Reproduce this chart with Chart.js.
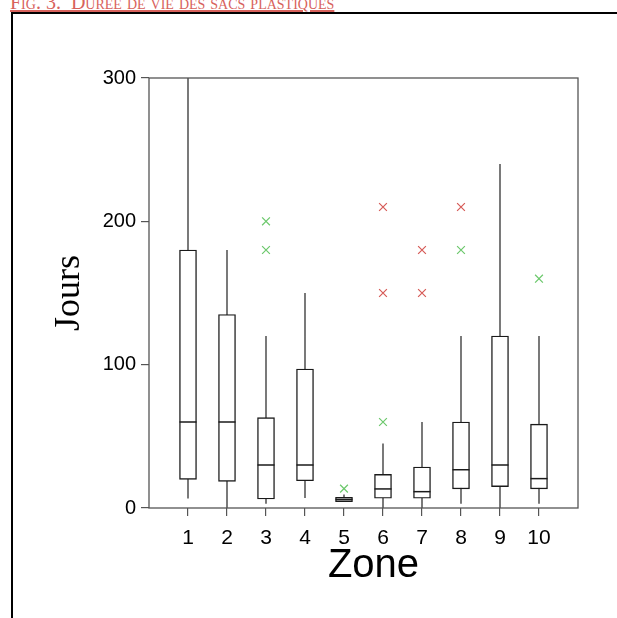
<!DOCTYPE html>
<html>
<head>
<meta charset="utf-8">
<script src="https://cdn.jsdelivr.net/npm/chart.js@4.4.1/dist/chart.umd.min.js"></script>
<style>
  body { margin: 0; background: #fff; overflow: hidden; }
  #fig {
    position: absolute; left: 10px; top: -8px;
    font-family: 'Liberation Serif', 'Times New Roman', serif;
    font-size: 20px; line-height: 20px; font-variant: small-caps;
    color: #d8625c; text-decoration: underline; white-space: pre;
  }
  #frame {
    position: absolute; left: 11px; top: 12px; width: 700px; height: 700px;
    border-left: 2px solid #000; border-top: 2px solid #000;
  }
  #myChart { position: absolute; left: 0; top: 0; }
</style>
</head>
<body>
<div id="fig">Fig. 3.  Durée de vie des sacs plastiques</div>
<div id="frame"></div>
<canvas id="myChart" width="617" height="618"></canvas>
<script>
// box plot values per zone (jours)
const zones = [1, 2, 3, 4, 5, 6, 7, 8, 9, 10];
const whiskerLow = [6.7, 0, 3, 7, 4.2, 0, 0, 3, 0, 3];
const q1 = [20, 18.6, 6.3, 19, 4.4, 6.8, 6.8, 13.3, 14.9, 13.3];
const median = [60, 60, 30, 30, 6, 13.3, 11.4, 26.7, 30, 20.5];
const q3 = [180, 135, 63, 97, 7.5, 23.5, 28.6, 60, 120, 58.5];
const whiskerHigh = [300, 180, 120, 150, 9.5, 45, 60, 120, 240, 120];

// outside values (green) and far outside values (red)
const outsideZone = [3, 3, 5, 6, 8, 10];
const outsideValue = [200, 180, 13.5, 60, 180, 160];
const farOutZone = [6, 6, 7, 7, 8];
const farOutValue = [210, 150, 180, 150, 210];

const yTicks = [0, 100, 200, 300];

let whiskers = [];
zones.forEach((z, i) => {
  whiskers.push({x: z, y: whiskerLow[i]}, {x: z, y: whiskerHigh[i]}, {x: z, y: null});
});

const framePlugin = {
  id: 'frame',
  afterDatasetsDraw(chart) {
    const {ctx, chartArea: a} = chart;
    ctx.save();
    ctx.strokeStyle = '#555';
    ctx.lineWidth = 1.3;
    ctx.strokeRect(a.left, a.top, a.right - a.left, a.bottom - a.top);
    ctx.restore();
  }
};

var ctx = document.getElementById('myChart').getContext('2d');
new Chart(ctx, {
  type: 'scatter',
  data: {
    datasets: [
      {
        type: 'scatter',
        data: zones.map((z, i) => ({x: z, y: median[i]})),
        pointStyle: 'line', pointRadius: 8.5, borderWidth: 1.5,
        borderColor: '#1a1a1a', order: 0
      },
      {
        type: 'scatter',
        data: outsideZone.map((z, i) => ({x: z, y: outsideValue[i]})),
        pointStyle: 'crossRot', pointRadius: 5.5, borderWidth: 1.2,
        borderColor: '#6cc86c', order: 0
      },
      {
        type: 'scatter',
        data: farOutZone.map((z, i) => ({x: z, y: farOutValue[i]})),
        pointStyle: 'crossRot', pointRadius: 5.5, borderWidth: 1.2,
        borderColor: '#d65a56', order: 0
      },
      {
        type: 'bar',
        data: zones.map((z, i) => ({x: z, y: [q1[i], q3[i]]})),
        barThickness: 17, borderSkipped: false, borderWidth: 1.4,
        borderColor: '#1a1a1a', backgroundColor: '#fff', order: 1
      },
      {
        type: 'line',
        data: whiskers,
        spanGaps: false, pointRadius: 0, borderWidth: 1.3,
        borderColor: '#333', fill: false, order: 2
      }
    ]
  },
  options: {
    responsive: false,
    animation: false,
    events: [],
    layout: { padding: { left: 0, right: 39, top: 78, bottom: 0 } },
    plugins: { legend: { display: false }, tooltip: { enabled: false } },
    scales: {
      x: {
        type: 'linear', min: 0, max: 11, offset: false,
        afterBuildTicks: (s) => { s.ticks = s.ticks.filter(t => t.value >= 1 && t.value <= 10); },
        afterFit: (s) => { s.height = 110; },
        ticks: {
          stepSize: 1, autoSkip: false, maxRotation: 0, color: '#000', padding: 10,
          font: { family: 'Liberation Sans', size: 21, lineHeight: 1.2 }
        },
        grid: { drawOnChartArea: false, offset: false, tickLength: 8, color: '#555', lineWidth: 1.2 },
        border: { display: false },
        title: {
          display: true, text: '\u2002Zone', color: '#000',
          font: { family: 'Liberation Sans', size: 40, lineHeight: 1 },
          padding: { top: 0, bottom: 32 }
        }
      },
      y: {
        type: 'linear', min: 0, max: 300,
        afterBuildTicks: (s) => { s.ticks = yTicks.map(v => ({value: v})); },
        afterFit: (s) => { s.width = 149; },
        ticks: {
          color: '#000', padding: 5,
          font: { family: 'Liberation Sans', size: 20 }
        },
        grid: { drawOnChartArea: false, tickLength: 8, color: '#555', lineWidth: 1.2 },
        border: { display: false },
        title: {
          display: true, text: 'Jours', color: '#000',
          font: { family: 'Liberation Serif', size: 36, lineHeight: 1 },
          padding: { top: 52, bottom: 0 }
        }
      }
    }
  },
  plugins: [framePlugin]
});
</script>
</body>
</html>
